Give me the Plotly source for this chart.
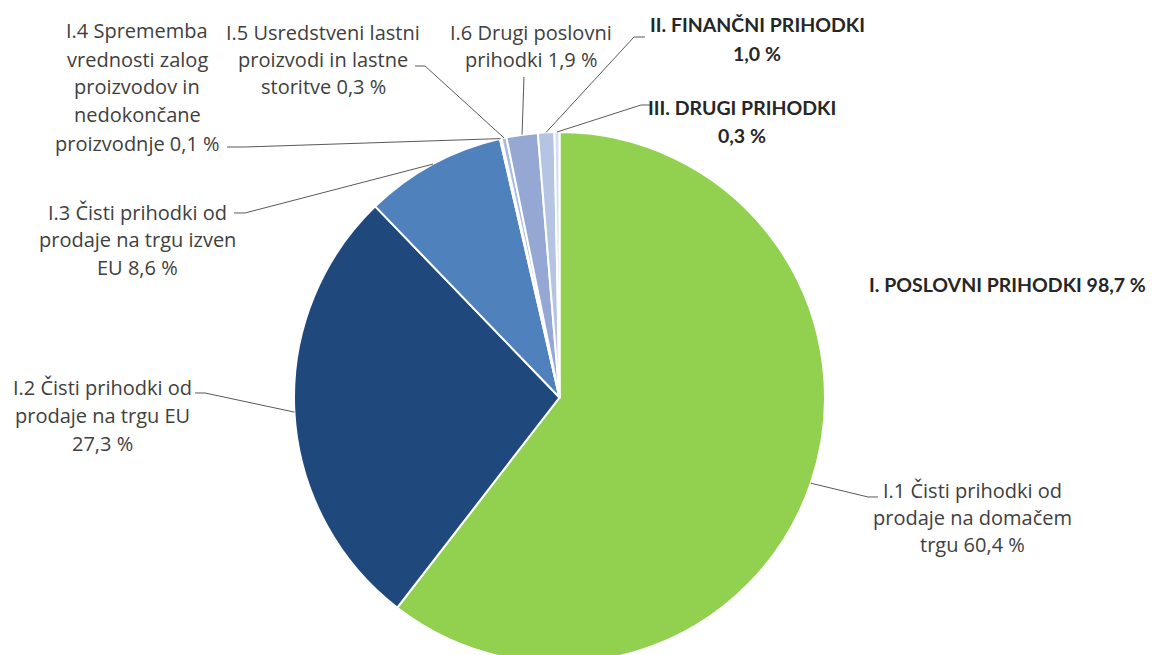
import plotly.graph_objects as go
import math

# ---------------- data ----------------
categories = [
    "I.1 Čisti prihodki od prodaje na domačem trgu",
    "I.2 Čisti prihodki od prodaje na trgu EU",
    "I.3 Čisti prihodki od prodaje na trgu izven EU",
    "I.4 Sprememba vrednosti zalog proizvodov in nedokončane proizvodnje",
    "I.5 Usredstveni lastni proizvodi in lastne storitve",
    "I.6 Drugi poslovni prihodki",
    "II. FINANČNI PRIHODKI",
    "III. DRUGI PRIHODKI",
]
values = [60.4, 27.3, 8.6, 0.1, 0.3, 1.9, 1.0, 0.3]
label_lines = [
    ["I.1 Čisti prihodki od", "prodaje na domačem", "trgu {v}"],
    ["I.2 Čisti prihodki od", "prodaje na trgu EU", "{v}"],
    ["I.3 Čisti prihodki od", "prodaje na trgu izven", "EU {v}"],
    ["I.4 Sprememba", "vrednosti zalog", "proizvodov in", "nedokončane", "proizvodnje {v}"],
    ["I.5 Usredstveni lastni", "proizvodi in lastne", "storitve {v}"],
    ["I.6 Drugi poslovni", "prihodki {v}"],
    ["II. FINANČNI PRIHODKI", "{v}"],
    ["III. DRUGI PRIHODKI", "{v}"],
]
group_name = "I. POSLOVNI PRIHODKI"
group_value = 98.7

# ---------------- styles / layout ----------------
colors = ["#92D050", "#1F497D", "#4F81BD", "#7F9ED0", "#A9BCE2",
          "#95A8D4", "#B4C4E2", "#D6DEF0"]
bold = [False, False, False, False, False, False, True, True]

W, H = 1159, 672
PCX, PCY, PR = 559.5, 397.5, 265.5   # pie centre / radius in px

# per label: centre x, first line y, line spacing, leader path (px) from label side toward pie
label_pos = [
    dict(cx=972, y0=490, dy=27, path=[(878, 497), (868, 497)]),
    dict(cx=102, y0=388, dy=27.5, path=[(195, 393), (205, 393)]),
    dict(cx=137, y0=212, dy=27.5, path=[(234, 213), (245, 213)]),
    dict(cx=137, y0=31, dy=28, path=[(227, 147), (245, 147)]),
    dict(cx=323, y0=32, dy=27.5, path=[(415, 66), (425, 66)]),
    dict(cx=531, y0=32, dy=27.5, path=[(524, 77)]),
    dict(cx=757, y0=25, dy=28, path=[(645, 37), (634, 37)]),
    dict(cx=742, y0=108, dy=28, path=[(651, 105), (641, 105)]),
]
group_pos = dict(cx=1007, y=285)

FONT = "Open Sans"
FS = 20
BFONT = "Lato"
BFS = 19.5
TXT = "#404040"
BTXT = "#262626"
LINE = "#595959"


def px(x):
    return x / W


def py(y):
    return 1 - y / H


def fmt(v):
    return f"{v:.1f}".replace(".", ",") + " %"


fig = go.Figure()
fig.add_trace(go.Pie(
    labels=categories,
    values=values,
    sort=False,
    direction="clockwise",
    rotation=0,
    textinfo="none",
    marker=dict(colors=colors, line=dict(color="white", width=2)),
    domain=dict(x=[px(PCX - PR), px(PCX + PR)], y=[py(PCY + PR), py(PCY - PR)]),
    showlegend=False,
))

annotations = []
shapes = []
total = sum(values)
cum = 0.0
for i, v in enumerate(values):
    theta = 2 * math.pi * (cum + v / 2) / total
    cum += v
    ax = PCX + PR * math.sin(theta)
    ay = PCY - PR * math.cos(theta)
    pos = label_pos[i]
    pts = pos["path"] + [(ax, ay)]
    d = "M " + " L ".join(f"{px(x):.5f},{py(y):.5f}" for x, y in pts)
    shapes.append(dict(type="path", xref="paper", yref="paper", path=d,
                       line=dict(color=LINE, width=1)))
    for k, line in enumerate(label_lines[i]):
        t = line.replace("{v}", fmt(v))
        if bold[i]:
            t = "<b>" + t + "</b>"
        annotations.append(dict(
            x=px(pos["cx"]), y=py(pos["y0"] + k * pos["dy"]),
            xref="paper", yref="paper", xanchor="center", yanchor="middle",
            showarrow=False, text=t,
            font=dict(family=BFONT if bold[i] else FONT,
                      size=BFS if bold[i] else FS,
                      color=BTXT if bold[i] else TXT),
        ))

annotations.append(dict(
    x=px(group_pos["cx"]), y=py(group_pos["y"]), xref="paper", yref="paper",
    xanchor="center", yanchor="middle", showarrow=False,
    text="<b>" + group_name + " " + fmt(group_value) + "</b>",
    font=dict(family=BFONT, size=BFS, color=BTXT),
))

fig.update_layout(
    width=W, height=H,
    margin=dict(l=0, r=0, t=0, b=0),
    paper_bgcolor="white", plot_bgcolor="white",
    annotations=annotations, shapes=shapes,
)

fig.write_html(
    "out.html",
    config={"displayModeBar": False},
    post_script="document.body.style.margin='0';document.body.style.overflow='hidden';"
                "document.documentElement.style.overflow='hidden';",
)
